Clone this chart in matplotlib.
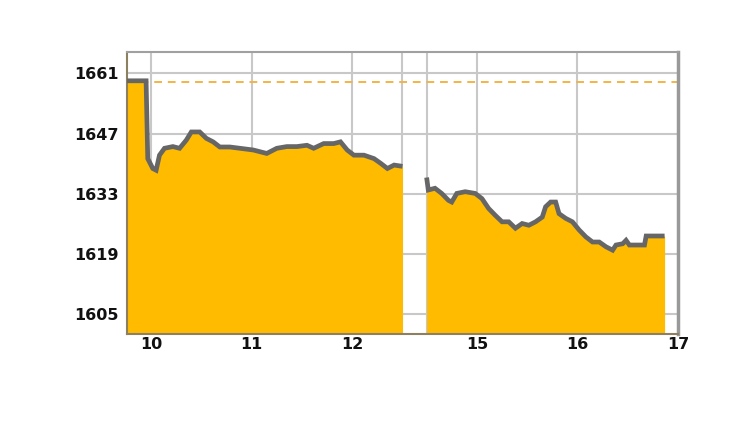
import matplotlib
matplotlib.use("Agg")
import matplotlib.pyplot as plt
import numpy as np

# intraday index values (clock time "HH:MM")
am_times = ["09:45", "09:57", "09:58", "10:01", "10:03", "10:05", "10:08", "10:13",
            "10:17", "10:21", "10:24", "10:29", "10:33", "10:37", "10:41", "10:47",
            "10:53", "11:01", "11:09", "11:15", "11:21", "11:27", "11:33", "11:37",
            "11:43", "11:49", "11:53", "11:57", "12:01", "12:07", "12:13", "12:17",
            "12:21", "12:25", "12:30"]
am_values = [1659.3, 1659.3, 1641.2, 1638.9, 1638.5, 1642.0, 1643.6, 1644.0,
             1643.6, 1645.5, 1647.4, 1647.4, 1645.9, 1645.1, 1643.9, 1643.9,
             1643.6, 1643.2, 1642.4, 1643.6, 1644.0, 1644.0, 1644.3, 1643.6,
             1644.7, 1644.7, 1645.1, 1643.2, 1642.0, 1642.0, 1641.2, 1640.1,
             1638.9, 1639.7, 1639.4]

pm_times = ["14:30", "14:31", "14:35", "14:39", "14:43", "14:45", "14:48", "14:53",
            "14:59", "15:03", "15:07", "15:11", "15:15", "15:19", "15:23", "15:27",
            "15:31", "15:35", "15:39", "15:41", "15:44", "15:47", "15:49", "15:53",
            "15:57", "16:01", "16:05", "16:09", "16:13", "16:17", "16:21", "16:23",
            "16:27", "16:29", "16:31", "16:40", "16:41", "16:52"]
pm_values = [1636.8, 1633.9, 1634.3, 1633.1, 1631.5, 1631.1, 1633.1, 1633.5,
             1633.1, 1631.9, 1629.6, 1628.0, 1626.5, 1626.5, 1625.0, 1626.1,
             1625.7, 1626.5, 1627.6, 1630.0, 1631.1, 1631.1, 1628.4, 1627.3,
             1626.5, 1624.6, 1623.0, 1621.8, 1621.8, 1620.7, 1619.9, 1621.1,
             1621.4, 1622.2, 1621.1, 1621.1, 1623.2, 1623.2]

prev_close = 1659.0
y_ticks = [1605, 1619, 1633, 1647, 1661]
x_tick_hours = [10, 11, 12, 15, 16, 17]

# lunch break 12:30-14:30 is squeezed to a narrow gap
LUNCH_START, LUNCH_END, GAP = 12.5, 14.5, 0.24


def to_hours(t):
    h, m = t.split(":")
    return int(h) + int(m) / 60.0


def to_pos(h):
    h = np.asarray(h, dtype=float)
    return np.where(h <= LUNCH_START, h, h - (LUNCH_END - LUNCH_START) + GAP)


fig = plt.figure(figsize=(7.5, 4.22), dpi=100)
ax = fig.add_axes([0.1693, 0.2085, 0.7347, 0.6683])

fill_col = "#FFBB00"
line_col = "#666666"

for times, vals in [(am_times, am_values), (pm_times, pm_values)]:
    x = to_pos([to_hours(t) for t in times])
    ax.fill_between(x, vals, 1590, color=fill_col, lw=0, zorder=2)
    ax.plot(x, vals, color=line_col, lw=3.4, zorder=3,
            solid_capstyle="butt", solid_joinstyle="miter")

ax.axhline(prev_close, color="#F2B445", lw=1.4, ls=(0, (4, 3)), zorder=1.5)

ax.set_xlim(9.76, float(to_pos(17)))
ax.set_ylim(1600.4, 1666.0)

# grid
ax.set_yticks(y_ticks)
ax.set_yticklabels([str(v) for v in y_ticks])
ax.set_xticks(to_pos(x_tick_hours))
ax.set_xticklabels([str(h) for h in x_tick_hours])
for v in y_ticks:
    ax.axhline(v, color="#C8C8C8", lw=1.5, zorder=1)
for h in [10, 11, 12, LUNCH_START, LUNCH_END, 15, 16]:
    ax.axvline(float(to_pos(h)), color="#C8C8C8", lw=1.5, zorder=1)

ax.tick_params(length=0, labelsize=11.5, colors="#111111")
ax.tick_params(axis="y", pad=6)
ax.tick_params(axis="x", pad=2)
for lab in ax.get_xticklabels() + ax.get_yticklabels():
    lab.set_fontweight("bold")
    lab.set_family("DejaVu Sans")

for side in ["left", "bottom"]:
    ax.spines[side].set_color("#8C8060")
    ax.spines[side].set_linewidth(1.5)
ax.spines["top"].set_color("#A0A0A0")
ax.spines["top"].set_linewidth(1.5)
ax.spines["right"].set_color("#999999")
ax.spines["right"].set_linewidth(2.5)

fig.savefig("out.png", dpi=100)
